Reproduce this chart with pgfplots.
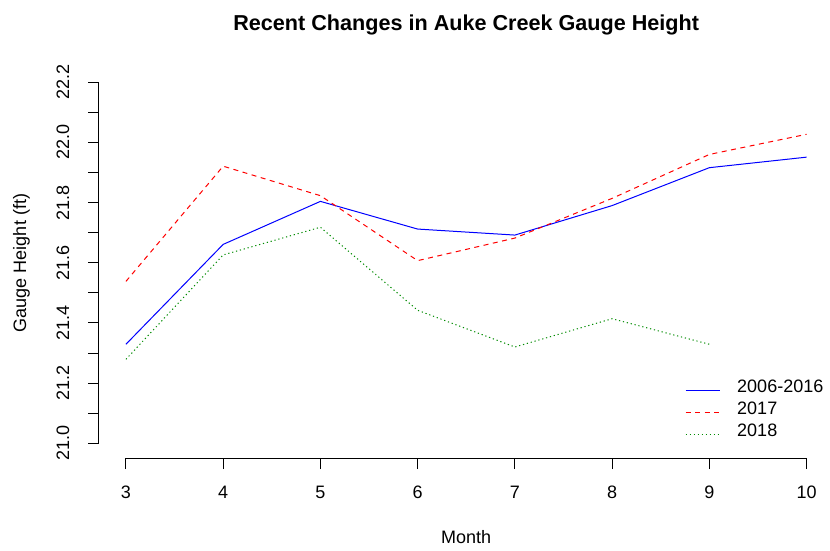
\documentclass[border=0pt]{standalone}
\usepackage{pgfplots}
\pgfplotsset{compat=1.18}
\usepackage{fontspec}
\setmainfont{Liberation Sans}
\definecolor{rblue}{RGB}{0,0,255}
\definecolor{rred}{RGB}{255,0,0}
\definecolor{rgreen}{RGB}{0,139,0}
\begin{document}
\fontsize{18}{21.6}\selectfont
\begin{tikzpicture}[x=1pt,y=1pt]
\useasboundingbox (0,0) rectangle (830,550);
\begin{axis}[
  at={(98.7pt,91.7pt)}, anchor=south west,
  scale only axis, width=735.1pt, height=390.5pt,
  xmin=2.72, xmax=10.28, ymin=20.95, ymax=22.248,
  axis line style={draw=none},
  clip=false,
  /pgf/number format/assume math mode=true,
  tick align=outside, tick pos=left,
  major tick length=10.7pt, minor tick length=10.7pt,
  tick style={black, line width=0.9pt},
  xtick={3,4,5,6,7,8,9,10},
  ytick={21,21.2,21.4,21.6,21.8,22,22.2},
  minor ytick={21.1,21.3,21.5,21.7,21.9,22.1},
  yticklabel style={/pgf/number format/fixed, /pgf/number format/fixed zerofill, /pgf/number format/precision=1},
  xticklabel style={anchor=base, yshift=-29pt, inner sep=0pt},
  yticklabel style={rotate=90, anchor=base, yshift=19pt, inner sep=0pt},
  legend cell align=left,
  legend image code/.code={\draw[#1] (0pt,0pt) -- (34.3pt,0pt);},
  legend style={draw=none, fill=none, at={(0.7976,0.2013)}, anchor=north west,
    inner sep=0pt, row sep=0pt, column sep=0pt,
    nodes={inner sep=0pt, text height=13pt, text depth=9pt}},
]
\addplot[rblue, line width=1pt] coordinates {
 (3,21.329) (4,21.661) (5,21.804) (6,21.712) (7,21.692) (8,21.790) (9,21.916) (10,21.951)};
\addlegendentry{\hspace{16.7pt}2006-2016}
\addplot[rred, line width=1pt, dash pattern=on 5pt off 4.5pt] coordinates {
 (3,21.538) (4,21.921) (5,21.823) (6,21.607) (7,21.682) (8,21.814) (9,21.960) (10,22.027)};
\addlegendentry{\hspace{16.7pt}2017}
\addplot[rgreen, line width=1pt, dash pattern=on 1.2pt off 2.8pt] coordinates {
 (3,21.279) (4,21.626) (5,21.718) (6,21.442) (7,21.320) (8,21.414) (9,21.329)};
\addlegendentry{\hspace{16.7pt}2018}
\draw[black, line width=0.9pt] (axis cs:3,20.95) -- (axis cs:10,20.95);
\draw[black, line width=0.9pt] (axis cs:2.72,21) -- (axis cs:2.72,22.2);
\end{axis}
\node[anchor=base, font=\bfseries\fontsize{21.6}{26}\selectfont] at (466.2,519) {Recent Changes in Auke Creek Gauge Height};
\node[anchor=base] at (466.2,7) {Month};
\node[anchor=base, rotate=90] at (26,287) {Gauge Height (ft)};
\end{tikzpicture}
\end{document}
